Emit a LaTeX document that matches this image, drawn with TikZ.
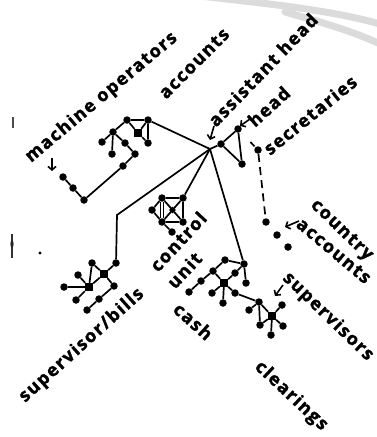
\documentclass[tikz,border=0pt]{standalone}
\usepackage{fontspec}
\newfontfamily\labfont[LetterSpace=8,BoldFeatures={FakeBold=1.6}]{Open Sans}
\usetikzlibrary{arrows.meta,shapes.geometric}
\tikzset{
  dot/.style={circle,fill=black,inner sep=0pt,minimum size=7.5pt},
  sq/.style={rectangle,fill=black,inner sep=0pt,minimum size=8pt},
  dia/.style={diamond,fill=black,inner sep=0pt,minimum size=7pt},
  edge/.style={line width=1.7pt,black},
  lbl/.style={anchor=base west,inner sep=0pt,font=\labfont\bfseries\fontsize{18}{18}\selectfont},
  marker/.style={line width=1.6pt,-{Straight Barb[length=3.5pt,width=8pt,line width=1.6pt]}},
  scan/.style={line width=7pt,black!14,line cap=round}
}
\begin{document}
\begin{tikzpicture}[x=1pt,y=-1pt]
\useasboundingbox (0,0) rectangle (376,437);
% scan artefacts
\draw[scan] (200,-4) .. controls (270,4) and (330,10) .. (380,24);
\draw[scan] (285,12) .. controls (320,22) and (350,30) .. (380,44);
\draw[line width=1.6pt,black!70] (13,117) -- (13,128);
\draw[line width=1.2pt,black!80] (12,234) -- (12,258);
\fill[black!85] (12,244) ellipse (1.6pt and 4pt);
\fill[black] (40,253) circle (1.6pt);

% hub
\coordinate (hub) at (210,149);
\coordinate (bend) at (117,215);

% machine operators cluster
\node[dot] (mA) at (127,120) {};
\node[dot] (mB) at (148,120) {};
\node[sq]  (mC) at (138,133) {};
\node[dot] (mD) at (148,143) {};
\node[dot] (mE) at (113,132) {};
\node[dot] (mF) at (102,142) {};
\node[dot] (mG) at (112,154) {};
\node[dot] (mH) at (125,143) {};
\node[dot] (mI) at (135,154) {};
\node[dot] (mJ) at (123,166) {};
\node[dot] (mK) at (84,200) {};
\node[dot] (mL) at (73,188) {};
\node[dot] (mM) at (63,177) {};
\draw[edge] (mA)--(mB) (mA)--(mC) (mB)--(mC) (mC)--(mD) (mB)--(mD)
  (mA)--(mE) (mE)--(mF) (mE)--(mG) (mE)--(mH) (mH)--(mI) (mI)--(mJ)
  (mJ)--(mK) (mK)--(mL) (mL)--(mM);
\draw[edge] (mB)--(hub);

% head cluster
\node[dot] (hP) at (221,144) {};
\node[dot] (hQ) at (238,129) {};
\node[dot] (hR) at (242,164) {};
\draw[edge] (hub)--(hP) (hP)--(hQ) (hP)--(hR) (hQ)--(hR);

% secretaries / country accounts
\node[dot] (sS) at (258,150) {};
\node[dot] (cT) at (266,222) {};
\node[dot] (cU) at (277,235) {};
\node[dot] (cV) at (288,247) {};
\draw[edge,dash pattern=on 0pt off 14pt on 6pt off 10pt] (hQ)--(sS);
\draw[edge,dash pattern=on 8pt off 5.2pt] (sS)--(cT);

% control unit
\node[dot] (uA) at (162,198) {};
\node[dot] (uB) at (183,198) {};
\node[dot] (uC) at (152,210) {};
\node[dot] (uD) at (162,222) {};
\node[dot] (uE) at (183,222) {};
\node[dia] (uX) at (172.5,210) {};
\node[dot] (uF) at (172,232) {};
\draw[edge] (uA)--(uB) (uB)--(uE) (uE)--(uD) (uA)--(uE) (uB)--(uD)
  (uC)--(uA) (uC)--(uD) (uD)--(uF);
\draw[line width=1.1pt,double,double distance=1.4pt] (uA)--(uD);
\draw[edge] (hub)--(uB);

% supervisor/bills
\node[dot] (bT) at (116,263) {};
\node[sq]  (bM) at (104,274) {};
\node[dot] (bN) at (92,263) {};
\node[sq]  (bO) at (89,287) {};
\node[dot] (bP) at (78,275) {};
\node[dot] (bQ) at (64,287) {};
\node[dot] (bR) at (76,300) {};
\node[dot] (bS) at (114,286) {};
\node[dot] (bV) at (99,299) {};
\node[dot] (bU) at (87,310) {};
\draw[edge] (hub)--(bend)--(bT);
\draw[edge] (bT)--(bM) (bM)--(bN) (bN)--(bO) (bM)--(bO) (bO)--(bP)
  (bO)--(bQ) (bO)--(bR) (bM)--(bS) (bS)--(bV) (bV)--(bU);

% cash / supervisors / clearings
\node[dot] (cA) at (244,264) {};
\node[dot] (cB) at (225,260) {};
\node[dot] (cC) at (213,271) {};
\node[dot] (cD) at (201,281) {};
\node[dot] (cE) at (189,292) {};
\node[dot] (cF) at (235,273) {};
\node[sq]  (cG) at (224,283) {};
\node[dot] (cH) at (246,283) {};
\node[dot] (cI) at (212,293) {};
\node[dot] (cJ) at (223,303) {};
\node[dot] (cK) at (235,293) {};
\node[dot] (cL) at (259,302) {};
\node[dot] (cM) at (249,310) {};
\node[dot] (cN) at (260,325) {};
\node[sq]  (cO) at (272,316) {};
\node[dot] (cP) at (282,305) {};
\node[dot] (cQ) at (283,326) {};
\node[dot] (cR) at (271,335) {};
\draw[edge] (hub)--(cA);
\draw[edge] (cA)--(cB) (cB)--(cC) (cC)--(cD) (cD)--(cE) (cA)--(cF)
  (cF)--(cG) (cC)--(cG) (cA)--(cH) (cG)--(cI) (cG)--(cJ) (cG)--(cK)
  (cK)--(cL) (cL)--(cM) (cL)--(cN) (cL)--(cO) (cO)--(cP) (cO)--(cQ)
  (cO)--(cR) (cN)--(cO);

% pointer marks
\coordinate (k1s) at (52,158); \coordinate (k1e) at (52,171);
\coordinate (k2s) at (214,126); \coordinate (k2e) at (210,140);
\coordinate (k3s) at (250,119); \coordinate (k3e) at (240,126);
\coordinate (k4s) at (299,221); \coordinate (k4e) at (285,227);
\coordinate (k5s) at (283,285); \coordinate (k5e) at (275,296);
\draw[marker] (k1s)--(k1e);
\draw[marker] (k2s)--(k2e);
\draw[marker] (k3s)--(k3e);
\draw[marker] (k4s)--(k4e);
\draw[marker] (k5s)--(k5e);

% labels
\node[lbl,rotate=40] (tMach) at (31,163) {machine operators};
\node[lbl,rotate=45] (tAcc) at (166,100) {accounts};
\node[lbl,rotate=46] (tAss) at (216,128) {assistant head};
\node[lbl,rotate=42] (tHead) at (255,128) {head};
\node[lbl,rotate=39] (tSec) at (270,156) {secretaries};
\node[lbl,rotate=47] (tCon) at (158,273) {control};
\node[lbl,rotate=47] (tUnit) at (175,290) {unit};
\node[lbl,rotate=-42] (tCash) at (172,311) {cash};
\node[lbl,rotate=42] (tBills) at (25,403) {supervisor/bills};
\node[lbl,rotate=-44] (tCountry) at (310,206) {country};
\node[lbl,rotate=-40] (tCAcc) at (295,226) {accounts};
\node[lbl,rotate=-44] (tSup) at (282,279) {supervisors};
\node[lbl,rotate=-43] (tClear) at (254,368) {clearings};
\end{tikzpicture}
\end{document}
